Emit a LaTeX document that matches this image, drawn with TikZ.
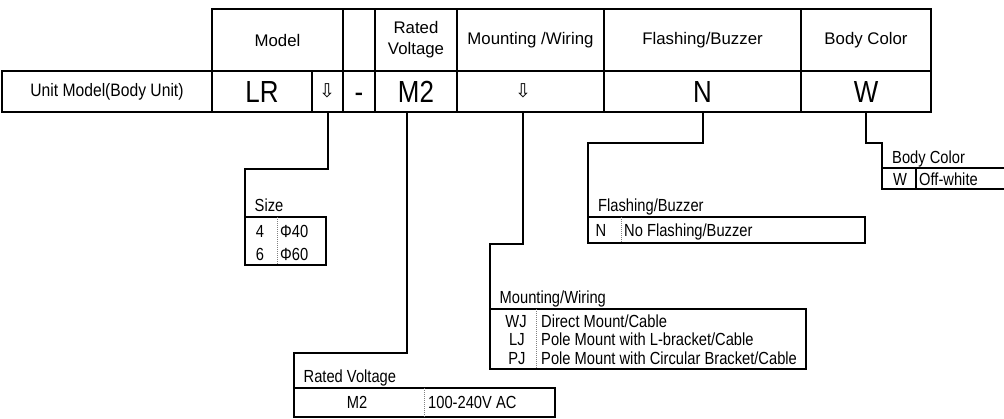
\documentclass[tikz,border=0pt]{standalone}
\usepackage{fontspec}
\setmainfont{Liberation Sans}
\newfontfamily\valfont{Liberation Sans}[FakeStretch=0.85]
\newfontfamily\legfont{Liberation Sans}[FakeStretch=0.84]
\newfontfamily\unitfont{Liberation Sans}[FakeStretch=0.87]
\newfontfamily\symfont{DejaVu Sans}
\usetikzlibrary{calc}
\begin{document}
\begin{tikzpicture}[x=1pt,y=-1pt,
  cell/.style={draw, line width=2pt, anchor=north west, inner sep=0pt, outer sep=0pt},
  hdr/.style={cell, minimum height=62pt, font=\fontsize{16.8}{21}\selectfont, align=center},
  val/.style={cell, minimum height=41pt, font=\valfont\fontsize{30.5}{30}\selectfont, text height=22pt, text depth=0pt},
  plain/.style={cell, minimum height=41pt},
  sym/.style={inner sep=0pt, font=\symfont\fontsize{19}{19}\selectfont},
  lbox/.style={draw, line width=2pt, anchor=north west, inner sep=0pt, outer sep=0pt},
  leg/.style={inner sep=0pt, font=\legfont\fontsize{17.5}{18}\selectfont, text height=12.5pt, text depth=0pt},
  conn/.style={line width=2pt},
  div/.style={draw=gray, line width=1pt, densely dotted},
  sdiv/.style={line width=1.3pt}]
\useasboundingbox (0,0) rectangle (1004,418);

% header row
\node[hdr, minimum width=131pt] (hModel) at (212,9) {Model};
\node[hdr, minimum width=32pt] (hBlank) at (343,9) {};
\node[hdr, minimum width=82pt] (hRV) at (375,9) {Rated\\Voltage};
\node[hdr, minimum width=147pt] (hMW) at (457,9) {Mounting /Wiring};
\node[hdr, minimum width=197pt] (hFB) at (604,9) {Flashing/Buzzer};
\node[hdr, minimum width=130pt] (hBC) at (801,9) {Body Color};

% value row
\node[plain, minimum width=210pt, font=\unitfont\fontsize{18}{20}\selectfont] (vUnit) at (2,71) {Unit Model(Body Unit)};
\node[val, minimum width=100pt] (vLR) at (212,71) {LR};
\node[plain, minimum width=31pt] (vArr) at (312,71) {};
\node[sym] (aLR) at (327,90.5) {⇩};
\node[val, minimum width=32pt] (vDash) at (343,71) {-};
\node[val, minimum width=82pt] (vM2) at (375,71) {M2};
\node[plain, minimum width=147pt] (vMW) at (457,71) {};
\node[sym] (aMW) at (523,90.5) {⇩};
\node[val, minimum width=197pt] (vN) at (604,71) {N};
\node[val, minimum width=130pt] (vW) at (801,71) {W};

% Size legend
\node[lbox, minimum width=81pt, minimum height=48pt] (sizeBox) at (245,217) {};
\draw[div] ($(sizeBox.north west)+(32,0)$) -- ($(sizeBox.south west)+(32,0)$);
\node[leg, anchor=west] (sizeT) at (254.5,205.5) {Size};
\node[leg] (s4) at (260,231.5) {4};
\node[leg, anchor=west] (s40) at (280,231.5) {Φ40};
\node[leg] (s6) at (260,254) {6};
\node[leg, anchor=west] (s60) at (280,254) {Φ60};
\draw[conn] (vArr.south) -- ++(0,57) -| (sizeBox.north west);

% Rated voltage legend
\node[lbox, minimum width=261pt, minimum height=29pt] (rvBox) at (294,388) {};
\draw[div] ($(rvBox.north west)+(130,0)$) -- ($(rvBox.south west)+(130,0)$);
\node[leg, anchor=west] (rvT) at (303.5,376.5) {Rated Voltage};
\node[leg] (rvC) at (357,402.5) {M2};
\node[leg, anchor=west] (rvD) at (428,402.5) {100-240V AC};
\draw[conn] ($(vM2.south)+(-9,0)$) -- ++(0,241) -| (rvBox.north west);

% Mounting legend
\node[lbox, minimum width=316pt, minimum height=60pt] (mwBox) at (490,309) {};
\draw[div] ($(mwBox.north west)+(46,0)$) -- ($(mwBox.south west)+(46,0)$);
\node[leg, anchor=west] (mwT) at (499.5,297.5) {Mounting/Wiring};
\node[leg] (mw1c) at (516,321) {WJ};
\node[leg, anchor=west] (mw1d) at (541,321) {Direct Mount/Cable};
\node[leg] (mw2c) at (517,339.5) {LJ};
\node[leg, anchor=west] (mw2d) at (541,339.5) {Pole Mount with L-bracket/Cable};
\node[leg] (mw3c) at (517,358) {PJ};
\node[leg, anchor=west] (mw3d) at (541,358) {Pole Mount with Circular Bracket/Cable};
\draw[conn] (aMW |- vMW.south) -- ++(0,132) -| (mwBox.north west);

% Flashing legend
\node[lbox, minimum width=277pt, minimum height=26pt] (fbBox) at (588,217) {};
\draw[div] ($(fbBox.north west)+(33,0)$) -- ($(fbBox.south west)+(33,0)$);
\node[leg, anchor=west] (fbT) at (598,205.5) {Flashing/Buzzer};
\node[leg] (fbC) at (601,230) {N};
\node[leg, anchor=west] (fbD) at (624,230) {No Flashing/Buzzer};
\draw[conn] (vN.south) -- ++(0,31) -| (fbBox.north west);

% Body colour legend
\node[lbox, minimum width=130pt, minimum height=21pt] (bcBox) at (882,168) {};
\draw[sdiv] ($(bcBox.north west)+(34,0)$) -- ($(bcBox.south west)+(34,0)$);
\node[leg, anchor=west] (bcT) at (892,157) {Body Color};
\node[leg] (bcC) at (900,179) {W};
\node[leg, anchor=west] (bcD) at (919,179) {Off-white};
\draw[conn] (vW.south) -- ++(0,31) -| (bcBox.north west);
\end{tikzpicture}
\end{document}
